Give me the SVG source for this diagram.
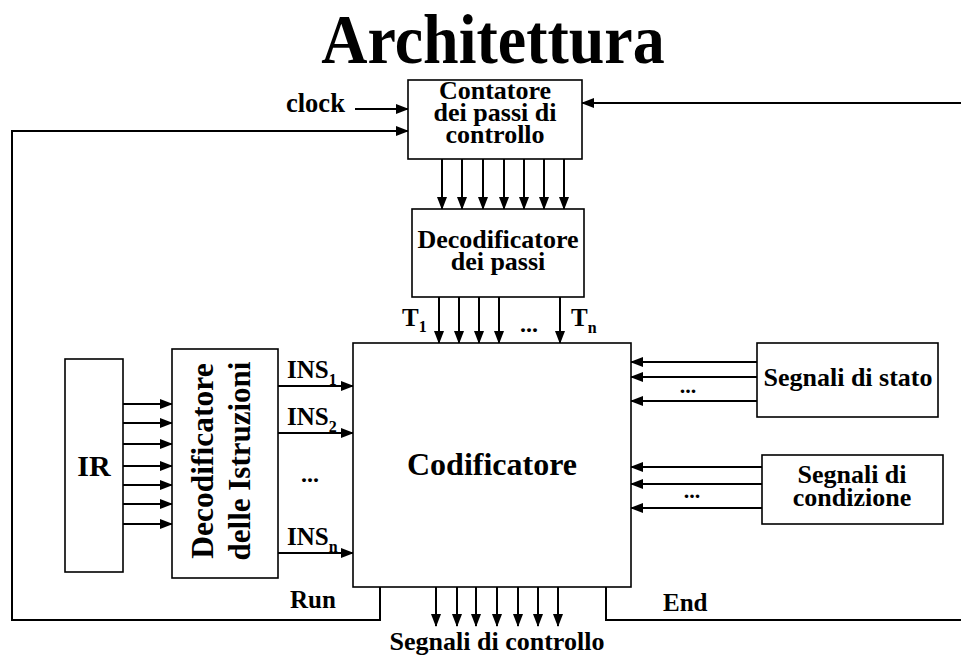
<svg xmlns="http://www.w3.org/2000/svg" width="961" height="663" viewBox="0 0 961 663">
  <style>
    text { font-family: "Liberation Serif", "Times New Roman", serif; font-weight: bold; fill: #000; }
    .lbl { font-size: 26px; text-anchor: middle; }
    .box { fill: #fff; stroke: #000; stroke-width: 1.6; }
    .wire { fill: none; stroke: #000; stroke-width: 2; }
    .arr { fill: none; stroke: #000; stroke-width: 2; marker-end: url(#head); }
  </style>
  <defs>
    <marker id="head" markerUnits="userSpaceOnUse" markerWidth="13" markerHeight="10" refX="12" refY="5" orient="auto">
      <path d="M0,0 L13,5 L0,10 z" fill="#000"/>
    </marker>
  </defs>

  <rect width="961" height="663" fill="#fff"/>

  <!-- heading, drawn slightly taller than wide -->
  <text transform="translate(493 63) scale(1 1.08)" x="0" y="0" font-size="64" text-anchor="middle">Architettura</text>

  <!-- connectors -->
  <g id="connectors">
    <!-- clock and feedback into the step counter -->
    <line class="arr" x1="355" y1="109" x2="408" y2="109"/>
    <polyline class="arr" points="380,587 380,620 12,620 12,131 408,131"/>
    <polyline class="wire" points="606,587 606,620 961,620"/>
    <line class="arr" x1="961" y1="103" x2="582" y2="103"/>

    <!-- counter to step decoder -->
    <g>
      <line class="arr" x1="442" y1="159" x2="442" y2="209"/>
      <line class="arr" x1="462" y1="159" x2="462" y2="209"/>
      <line class="arr" x1="483" y1="159" x2="483" y2="209"/>
      <line class="arr" x1="504" y1="159" x2="504" y2="209"/>
      <line class="arr" x1="524" y1="159" x2="524" y2="209"/>
      <line class="arr" x1="544" y1="159" x2="544" y2="209"/>
      <line class="arr" x1="564" y1="159" x2="564" y2="209"/>
    </g>

    <!-- step decoder to encoder (T1..Tn) -->
    <g>
      <line class="arr" x1="439" y1="297" x2="439" y2="343"/>
      <line class="arr" x1="459" y1="297" x2="459" y2="343"/>
      <line class="arr" x1="479" y1="297" x2="479" y2="343"/>
      <line class="arr" x1="499" y1="297" x2="499" y2="343"/>
      <line class="arr" x1="560" y1="297" x2="560" y2="343"/>
    </g>

    <!-- IR to instruction decoder -->
    <g>
      <line class="arr" x1="123" y1="404" x2="172" y2="404"/>
      <line class="arr" x1="123" y1="423" x2="172" y2="423"/>
      <line class="arr" x1="123" y1="444" x2="172" y2="444"/>
      <line class="arr" x1="123" y1="466" x2="172" y2="466"/>
      <line class="arr" x1="123" y1="485" x2="172" y2="485"/>
      <line class="arr" x1="123" y1="504" x2="172" y2="504"/>
      <line class="arr" x1="123" y1="524" x2="172" y2="524"/>
    </g>

    <!-- instruction decoder to encoder -->
    <g>
      <line class="arr" x1="278" y1="386" x2="353" y2="386"/>
      <line class="arr" x1="278" y1="433" x2="353" y2="433"/>
      <line class="arr" x1="278" y1="553" x2="353" y2="553"/>
    </g>

    <!-- status signals -->
    <g>
      <line class="arr" x1="757" y1="362" x2="631" y2="362"/>
      <line class="arr" x1="757" y1="377" x2="631" y2="377"/>
      <line class="arr" x1="757" y1="401" x2="631" y2="401"/>
    </g>

    <!-- condition signals -->
    <g>
      <line class="arr" x1="762" y1="467" x2="631" y2="467"/>
      <line class="arr" x1="762" y1="484" x2="631" y2="484"/>
      <line class="arr" x1="762" y1="508" x2="631" y2="508"/>
    </g>

    <!-- control signals out -->
    <g>
      <line class="arr" x1="436" y1="587" x2="436" y2="626"/>
      <line class="arr" x1="457" y1="587" x2="457" y2="626"/>
      <line class="arr" x1="476" y1="587" x2="476" y2="626"/>
      <line class="arr" x1="497" y1="587" x2="497" y2="626"/>
      <line class="arr" x1="518" y1="587" x2="518" y2="626"/>
      <line class="arr" x1="538" y1="587" x2="538" y2="626"/>
      <line class="arr" x1="558" y1="587" x2="558" y2="626"/>
    </g>
  </g>

  <!-- connector labels -->
  <g id="labels">
    <text x="286" y="112" font-size="26.5">clock</text>
    <text x="402" y="326" font-size="25">T<tspan font-size="16" dy="6">1</tspan></text>
    <text x="571" y="326" font-size="25">T<tspan font-size="16" dy="7">n</tspan></text>
    <text x="529" y="332" font-size="24" text-anchor="middle">...</text>
    <text x="287" y="378" font-size="25">INS<tspan font-size="16" dy="7">1</tspan></text>
    <text x="287" y="425" font-size="25">INS<tspan font-size="16" dy="7">2</tspan></text>
    <text x="310" y="482" font-size="24" text-anchor="middle">...</text>
    <text x="287" y="545" font-size="25">INS<tspan font-size="16" dy="7">n</tspan></text>
    <text x="688" y="393" font-size="22" text-anchor="middle">...</text>
    <text x="692" y="498" font-size="22" text-anchor="middle">...</text>
    <text x="290" y="608" font-size="25">Run</text>
    <text x="663" y="611" font-size="25">End</text>
    <text class="lbl" x="497" y="650">Segnali di controllo</text>
  </g>

  <g id="contatore">
    <rect class="box" x="408" y="80" width="174" height="79"/>
    <text class="lbl" x="495" y="99">Contatore</text>
    <text class="lbl" x="495" y="121">dei passi di</text>
    <text class="lbl" x="495" y="143">controllo</text>
  </g>

  <g id="decodificatore-passi">
    <rect class="box" x="412" y="209" width="172" height="88"/>
    <text class="lbl" x="498" y="248">Decodificatore</text>
    <text class="lbl" x="498" y="270">dei passi</text>
  </g>

  <g id="ir">
    <rect class="box" x="65" y="359" width="58" height="213"/>
    <text x="94" y="476" font-size="30" text-anchor="middle">IR</text>
  </g>

  <g id="decodificatore-istruzioni">
    <rect class="box" x="172" y="349" width="106" height="229"/>
    <text x="213" y="461" font-size="31.5" text-anchor="middle" transform="rotate(-90 213 461)">Decodificatore</text>
    <text x="250" y="461" font-size="31" text-anchor="middle" transform="rotate(-90 250 461)">delle Istruzioni</text>
  </g>

  <g id="codificatore">
    <rect class="box" x="353" y="343" width="278" height="244"/>
    <text x="492" y="475" font-size="32" text-anchor="middle">Codificatore</text>
  </g>

  <g id="segnali-stato">
    <rect class="box" x="757" y="343" width="181" height="74"/>
    <text class="lbl" x="848" y="386">Segnali di stato</text>
  </g>

  <g id="segnali-condizione">
    <rect class="box" x="762" y="455" width="181" height="69"/>
    <text class="lbl" x="852" y="483">Segnali di</text>
    <text class="lbl" x="852" y="506">condizione</text>
  </g>
</svg>
